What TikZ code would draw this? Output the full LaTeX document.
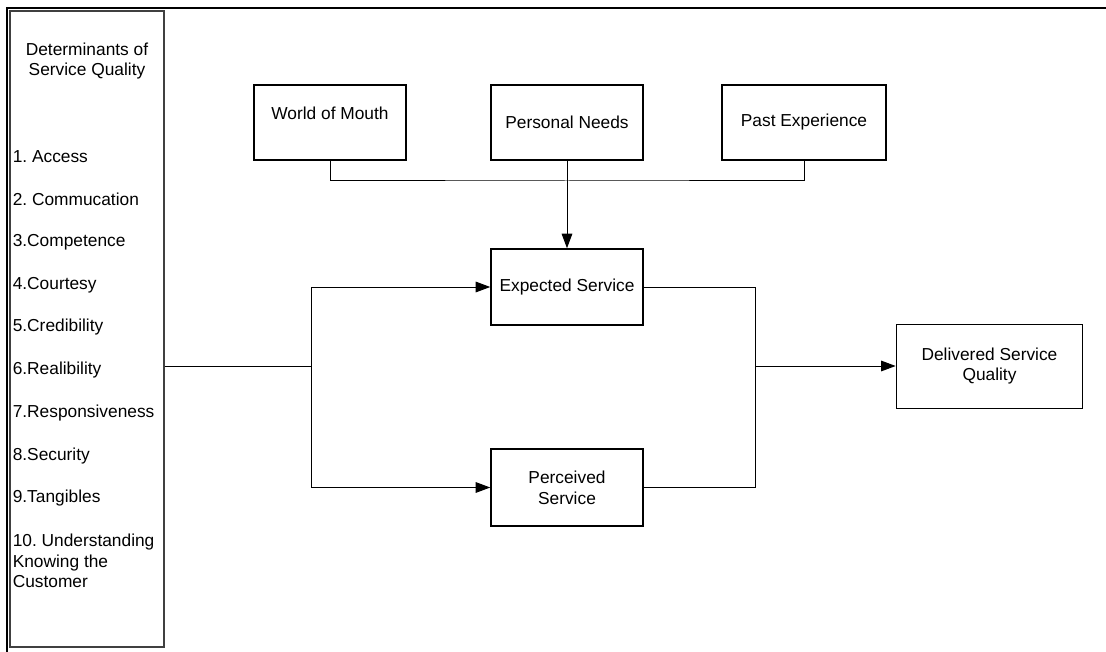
\documentclass[tikz,border=0pt]{standalone}
\usepackage{fontspec}
\setmainfont{Liberation Sans}
\usetikzlibrary{arrows.meta}
\frenchspacing

\tikzset{
  box/.style={draw, line width=1.1pt, minimum width=114pt, minimum height=56.5pt, align=center, inner sep=0pt},
  link/.style={line width=0.75pt},
  arr/.style={link, -{Triangle[length=11pt,width=8pt]}},
  item/.style={anchor=west, align=left, inner sep=0pt},
}

\begin{document}
\begin{tikzpicture}[x=0.75pt,y=-0.75pt,font=\fontsize{13}{15.5}\selectfont]
\useasboundingbox (0,0) rectangle (1106,652);

% Frame
\draw [line width=1.8pt] (1106,8) -- (7,8) -- (7,652);

% Determinants
\node [draw, black!75, line width=0.9pt, minimum width=115.5pt, minimum height=477pt, inner sep=0pt] (panel) at (87,329) {};
\node [align=center, inner sep=0pt] (title) at (87,61) {Determinants of\\Service Quality};
\foreach \y/\t [count=\i] in {157/1. Access, 199.5/2. Commucation, 242/3.Competence, 285/4.Courtesy, 327.5/5.Credibility, 370/6.Realibility, 413/7.Responsiveness, 456/8.Security, 498/9.Tangibles}
  \node [item] (d\i) at (12.5,\y) {\t};
\node [item] (d10) at (12.5,561) {10. Understanding\\Knowing the\\Customer};

% Expectations
\node [box, text depth=14pt] (mouth) at (330,122.5) {World of Mouth};
\node [box] (needs) at (567,122.5) {Personal Needs};
\node [box, minimum width=123pt] (past) at (804,122.5) {Past Experience};

% Services
\node [box, minimum height=57pt] (expected) at (567,287) {Expected Service};
\node [box, minimum height=57.5pt] (perceived) at (567,487.5) {Perceived\\Service};
\node [box, line width=0.75pt, minimum width=140pt, minimum height=63pt] (quality) at (989.5,366) {Delivered Service\\Quality};

% Links
\coordinate (bus) at (567,181);
\coordinate (split) at (311,366);
\coordinate (join) at (755.5,366);
\draw [link] (mouth.south) |- (bus) -| (past.south);
\draw [arr] (needs.south) -- (expected.north);
\draw [link] (split -| panel.east) -- (split);
\draw [arr] (split) |- (expected.west);
\draw [arr] (split) |- (perceived.west);
\draw [link] (expected.east) -| (join);
\draw [link] (perceived.east) -| (join);
\draw [arr] (join) -- (quality.west);
\end{tikzpicture}
\end{document}
